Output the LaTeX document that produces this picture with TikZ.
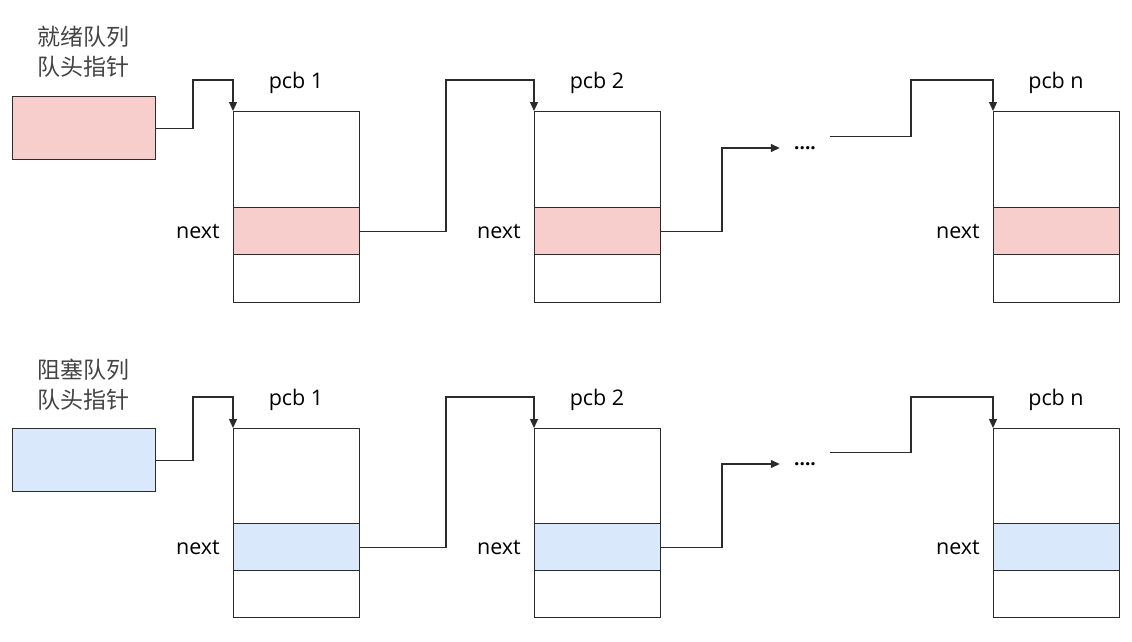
\documentclass[tikz,border=0pt]{standalone}
\usepackage{fontspec}
\setmainfont{Open Sans}
\newfontfamily\cjk{Noto Sans CJK SC}
\usetikzlibrary{arrows.meta}
\definecolor{pinkfill}{HTML}{F8CECC}
\definecolor{bluefill}{HTML}{DAE8FC}
\definecolor{strokec}{HTML}{2B2B2B}
\definecolor{labelc}{HTML}{444444}
\begin{document}
\begin{tikzpicture}[x=1pt,y=-1pt,
  cell/.style={draw=strokec,line width=1.3pt,inner sep=0pt,anchor=north west,minimum width=126pt},
  headbox/.style={draw=strokec,line width=1.3pt,inner sep=0pt,anchor=north west,minimum width=143pt,minimum height=63pt},
  conn/.style={draw=strokec,line width=1.3pt},
  arr/.style={conn,-{Triangle[length=9pt,width=8pt]}},
  lbl/.style={font=\fontsize{21.5}{24}\selectfont,inner sep=0pt,text=black},
  cjklbl/.style={font=\cjk\fontsize{23}{30}\selectfont,align=center,text=labelc,inner sep=0pt},
  dotsbox/.style={inner sep=0pt,minimum width=50pt,minimum height=22pt,font=\bfseries\fontsize{19}{20}\selectfont}
]
\useasboundingbox (0,0) rectangle (1132,642);

% ===== top row: ready queue =====
\node[cjklbl] (rqlabel) at (83,52) {就绪队列\\队头指针};
\node[headbox,fill=pinkfill] (rhead) at (12,96) {};

\foreach \n/\x in {1/233,2/534,n/993}{
  \node[cell,minimum height=96pt] (r\n a) at (\x,111) {};
  \node[cell,minimum height=47pt,fill=pinkfill] (r\n b) at (\x,207) {};
  \node[cell,minimum height=48pt] (r\n c) at (\x,254) {};
  \node[lbl,anchor=east] (r\n next) at (\x-13,232) {next};
}
\node[lbl] (r1title) at (296,83) {pcb 1};
\node[lbl] (r2title) at (597,83) {pcb 2};
\node[lbl] (rntitle) at (1056,83) {pcb n};
\node[dotsbox] (rdots) at (805,148) {....};

\draw[arr] (rhead.east) -| (193,80) -| (r1a.north west);
\draw[arr] (r1b.east) -| (446,80) -| (r2a.north west);
\draw[arr] (r2b.east) -| (722,148) -- (rdots.west);
\draw[arr] (rdots.north east) -| (911,80) -| (rna.north west);

% ===== bottom row: blocked queue =====
\node[cjklbl] (bqlabel) at (83,385) {阻塞队列\\队头指针};
\node[headbox,fill=bluefill] (bhead) at (12,428) {};

\foreach \n/\x in {1/233,2/534,n/993}{
  \node[cell,minimum height=95pt] (b\n a) at (\x,428) {};
  \node[cell,minimum height=47pt,fill=bluefill] (b\n b) at (\x,523) {};
  \node[cell,minimum height=47pt] (b\n c) at (\x,570) {};
  \node[lbl,anchor=east] (b\n next) at (\x-13,548) {next};
}
\node[lbl] (b1title) at (296,400) {pcb 1};
\node[lbl] (b2title) at (597,400) {pcb 2};
\node[lbl] (bntitle) at (1056,400) {pcb n};
\node[dotsbox] (bdots) at (805,464) {....};

\draw[arr] (bhead.east) -| (193,397) -| (b1a.north west);
\draw[arr] (b1b.east) -| (446,397) -| (b2a.north west);
\draw[arr] (b2b.east) -| (722,464) -- (bdots.west);
\draw[arr] (bdots.north east) -| (911,397) -| (bna.north west);
\end{tikzpicture}
\end{document}
